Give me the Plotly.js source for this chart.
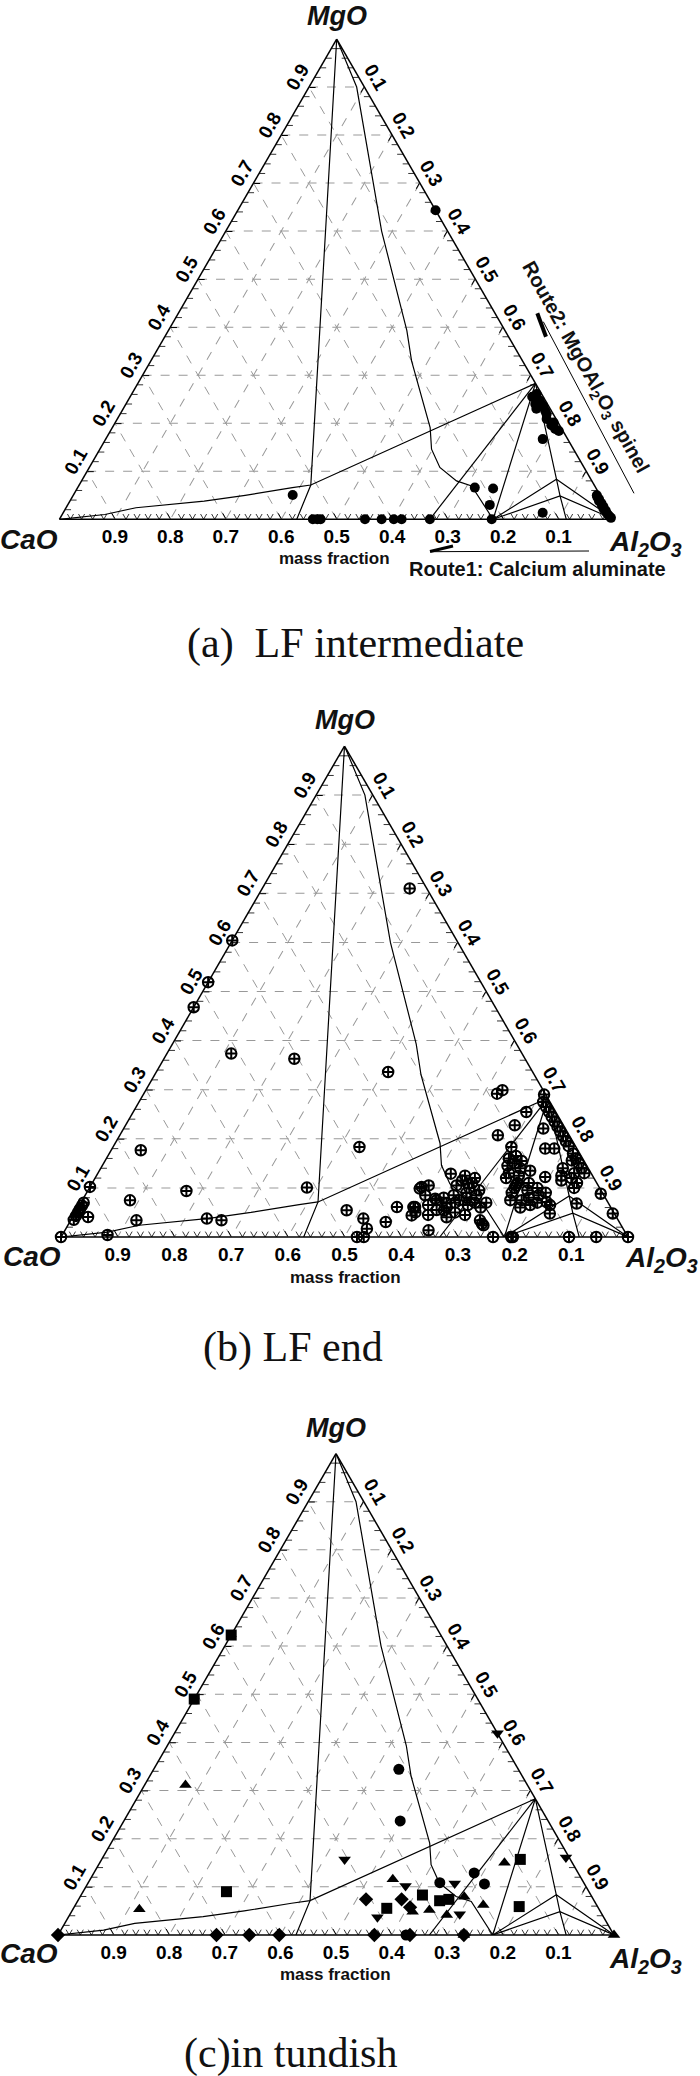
<!DOCTYPE html>
<html><head><meta charset="utf-8">
<script src="https://cdn.plot.ly/plotly-3.0.1.min.js"></script>
<style>html,body{margin:0;padding:0;background:#fff}#chart{width:700px;height:2076px}</style>
</head><body><div id="chart"></div>
<script>
// ---------- tick labels ----------
const TICKVALS = [0.1,0.2,0.3,0.4,0.5,0.6,0.7,0.8,0.9];
const TICKTEXT = ['0.1','0.2','0.3','0.4','0.5','0.6','0.7','0.8','0.9'];
const MINOR = [0.02,0.04,0.06,0.08,0.12,0.14,0.16,0.18,0.22,0.24,0.26,0.28,0.32,0.34,0.36,0.38,0.42,0.44,0.46,0.48,
  0.52,0.54,0.56,0.58,0.62,0.64,0.66,0.68,0.72,0.74,0.76,0.78,0.82,0.84,0.86,0.88,0.92,0.94,0.96,0.98];

// ---------- phase-diagram boundary lines (MgO, CaO; Al2O3 = rest) ----------
const line1_MgO = [1, 0.0714, 0];
const line1_CaO = [0, 0.511, 0.572];
const line2_MgO = [1, 0.9, 0.6, 0.393, 0.33, 0.191, 0.146, 0.108, 0.080, 0.0695, 0];
const line2_CaO = [0, 0.014, 0.119, 0.177, 0.200, 0.236, 0.256, 0.260, 0.244, 0.222, 0.218];
const line3_MgO = [0, 0.010, 0.024, 0.038, 0.050, 0.066, 0.0714, 0.283];
const line3_CaO = [1, 0.913, 0.85, 0.72, 0.64, 0.547, 0.511, 0];
// tie lines (segments separated by null)
const tie_MgO = [0.283, 0, null, 0.283, 0, null, 0.283, 0.0835, 0.0486, 0, null, 0, 0.0835, 0, null, 0, 0.0486, 0];
const tie_CaO = [0, 0.218, null, 0, 0.332, null, 0, 0.062, 0.073, 0.086, null, 0.218, 0.062, 0, null, 0.218, 0.073, 0];

// ---------- (a) LF intermediate ----------
const a_MgO = [0,0,0,0,0,0,0,0,0, 0.0507,0.066,0.064,0.030,0.0138,
  0.261,0.247,0.2365,0.226,0.219,0.209,0.2017,0.188,0.184,0.167,0.255,0.24,0.23,0.196,
  0.05,0.046,0.042,0.038,0.034,0.030,0.026,0.022,0.018,0.014,0.010,0.006,0.003, 0.6435];
const a_CaO = [0.543,0.535,0.529,0.449,0.419,0.397,0.383,0.332,0.2205, 0.554,0.218,0.186,0.209,0.1217,
  0.009,0.010,0.0095,0.011,0.012,0.017,0.008,0.012,0.0075,0.045,0.02,0.022,0.025,0.015,
  0.006,0.007,0.006,0.008,0.006,0.007,0.006,0.008,0.006,0.007,0.006,0.005,0.004, 0.0];

// ---------- (b) LF end ----------
const b_MgO = [0.71,0.604,0.519,0.468,0.3735,0.363,0.336,0.299,0.292,0.1766,0.1833,0.102,0.0937,0.1006,0.129,0.105,
  0.0747,0.0407,0.035,0.043,0.05,0.057,0.064,0.07,0.034,0.0375,0.034,0,0.004,0.0544,0.0375,0.017,0,0,0.0305,0.061,
  0.061,0.102,0.0136,0.027,0.0986,0,0,0,0,0,0,0.0238,0.1088,0.29,0.2546,0.2275,0.207,0.1833,0.2208,0.18,0.18,
  0.275,0.265,0.255,0.245,0.235,0.225,0.215,0.205,0.195,0.185,0.17,0.16,0.15,0.14,0.13,
  0.156,0.13,0.12,0.11,0.1,0.125,0.14,0.115,0.088,0.0477,0.068,0.0477,0.0713,0.122,
  0.065,0.07,0.075,0.08,0.085,0.09,0.095,0.1,0.105,0.11,0.115,0.12,0.125,0.085,0.07,0.06,
  0.1,0.11,0.12,0.125,0.13,0.14,0.145,0.15,0.155,0.16,0.165,0.135,
  0.06,0.065,0.07,0.075,0.08,0.085,0.09,0.095,0.1,0.105,0.11,0.075,0.065,0.09,
  0.04,0.045,0.05,0.055,0.06,0.065,0.07,0.075,0.08,0.085,0.05,0.045,
  0.078,0.068,0.054,0.061,0.044,0.034];
const b_CaO = [0.03,0.396,0.481,0.532,0.513,0.407,0.255,0.072,0.085,0.771,0.382,0.898,0.732,0.516,0.248,0.299,
  0.841,0.932,0.96,0.952,0.945,0.938,0.931,0.925,0.85,0.724,0.70,1,0.916,0.469,0.448,0.452,0.478,0.466,0.412,0.377,
  0.345,0.313,0.345,0.244,0.318,0.238,0.206,0.203,0.104,0.056,0,0.243,0.227,0.003,0.052,0.086,0.126,0.114,0.039,0.056,0.04,
  0.012,0.012,0.012,0.012,0.012,0.012,0.012,0.012,0.012,0.012,0.012,0.012,0.012,0.012,0.012,
  0.021,0.03,0.04,0.035,0.045,0.055,0.045,0.06,0.004,0.003,0.0565,0.114,0.108,0.085,
  0.25,0.235,0.26,0.245,0.225,0.24,0.215,0.23,0.25,0.22,0.235,0.21,0.225,0.265,0.215,0.23,
  0.15,0.14,0.155,0.13,0.145,0.12,0.14,0.125,0.11,0.13,0.115,0.105,
  0.16,0.14,0.125,0.15,0.135,0.115,0.16,0.13,0.11,0.145,0.12,0.17,0.105,0.1,
  0.3,0.33,0.28,0.31,0.29,0.32,0.27,0.3,0.285,0.315,0.35,0.265,
  0.301,0.286,0.2975,0.348,0.3595,0.244];

// ---------- (c) in tundish: five marker groups ----------
const c1_MgO = [0.344,0.237,0.1086,0.129,0.106,0];
const c1_CaO = [0.215,0.266,0.259,0.187,0.18,0.374];
const c2_MgO = [0.3115,0.0533,0.1157,0.0484,0.052,0.0415,0.0795,0.0623,0.150,0,0];
const c2_CaO = [0.615,0.827,0.34,0.338,0.306,0.28,0.2295,0.204,0.122,0,0.27];
const c3_MgO = [0.157,0.1018,0.037,0.107,0.043,0.161,0.419];
const c3_CaO = [0.406,0.324,0.407,0.233,0.256,0.006,0.0];
const c4_MgO = [0.09,0.0554,0.083,0.0712,0.074,0.157,0.059,0.623,0.49];
const c4_CaO = [0.652,0.381,0.303,0.278,0.26,0.09,0.141,0.377,0.51];
const c5_MgO = [0,0,0,0,0,0,0,0.074,0.074,0.0575];
const c5_CaO = [1,0.715,0.656,0.602,0.431,0.367,0.27,0.409,0.345,0.338];

// ---------- layout helpers ----------
const W = 700, H = 2076;
const fx = x => x / W, fy = y => 1 - y / H;
const boxes = [
  {x0: 59.4, x1: 614, y0: 39, y1: 519.3},
  {x0: 61, x1: 628, y0: 746, y1: 1237},
  {x0: 58, x1: 614, y0: 1453.5, y1: 1935}
];
const SANS = 'Liberation Sans, Arial, sans-serif';
const SERIF = 'Liberation Serif, Times New Roman, serif';
function axis(extra) {
  return Object.assign({
    min: 0, tickmode: 'array', tickvals: TICKVALS, ticktext: TICKTEXT.map(t => '<b>' + t + '</b>'),
    showgrid: true, gridcolor: '#999', griddash: 'dash', gridwidth: 1,
    showline: true, linecolor: '#000', linewidth: 1.5,
    ticks: 'inside', ticklen: 6, tickcolor: '#000', tickwidth: 1,
    tickfont: {family: SANS, size: 19, color: '#000'},
    title: {text: ''}
  }, extra || {});
}
function tern(b) {
  return {
    sum: 1, bgcolor: '#fff',
    domain: {x: [fx(b.x0), fx(b.x1)], y: [fy(b.y1), fy(b.y0)]},
    aaxis: axis({tickangle: -60}),
    baxis: axis({}),
    caxis: axis({tickangle: 60})
  };
}

// minor tick marks along the three edges (short strokes along the grid directions)
const d = 0.011;
const minA = [], minB = [];
MINOR.forEach(v => {
  // bottom edge (MgO = 0, CaO = v)
  minA.push(0, d, null, 0, d, null); minB.push(v, v, null, v, v - d, null);
  // left edge (Al2O3 = 0, MgO = v)
  minA.push(v, v, null); minB.push(1 - v, 1 - v - d, null);
  // right edge (CaO = 0, MgO = v)
  minA.push(v, v, null); minB.push(0, d, null);
});

const traces = [];
['ternary', 'ternary2', 'ternary3'].forEach(sp => {
  const ln = {color: '#000', width: 1.2};
  traces.push({type: 'scatterternary', subplot: sp, mode: 'lines', sum: 1, a: minA, b: minB, line: {color: '#000', width: 0.8}, connectgaps: false, hoverinfo: 'skip', cliponaxis: false});
  traces.push({type: 'scatterternary', subplot: sp, mode: 'lines', sum: 1, a: line1_MgO, b: line1_CaO, line: ln, hoverinfo: 'skip', cliponaxis: false});
  traces.push({type: 'scatterternary', subplot: sp, mode: 'lines', sum: 1, a: line2_MgO, b: line2_CaO, line: ln, hoverinfo: 'skip', cliponaxis: false});
  traces.push({type: 'scatterternary', subplot: sp, mode: 'lines', sum: 1, a: line3_MgO, b: line3_CaO, line: ln, hoverinfo: 'skip', cliponaxis: false});
  traces.push({type: 'scatterternary', subplot: sp, mode: 'lines', sum: 1, a: tie_MgO, b: tie_CaO, line: ln, connectgaps: false, hoverinfo: 'skip', cliponaxis: false});
});

traces.push({type: 'scatterternary', subplot: 'ternary', mode: 'markers', sum: 1, a: a_MgO, b: a_CaO, cliponaxis: false,
  marker: {symbol: 'circle', size: 10, color: '#000'}});
traces.push({type: 'scatterternary', subplot: 'ternary2', mode: 'markers', sum: 1, a: b_MgO, b: b_CaO, cliponaxis: false,
  marker: {symbol: 'circle-cross-open', size: 10.5, color: '#000', line: {width: 2, color: '#000'}}});
const csym = [['circle', c1_MgO, c1_CaO], ['triangle-up', c2_MgO, c2_CaO], ['triangle-down', c3_MgO, c3_CaO], ['square', c4_MgO, c4_CaO], ['diamond', c5_MgO, c5_CaO]];
csym.forEach(s => traces.push({type: 'scatterternary', subplot: 'ternary3', mode: 'markers', sum: 1, a: s[1], b: s[2], cliponaxis: false,
  marker: {symbol: s[0], size: 11, color: '#000'}}));

function ann(text, x, y, size, opts) {
  return Object.assign({text: text, x: fx(x), y: fy(y), xref: 'paper', yref: 'paper', showarrow: false,
    xanchor: 'center', yanchor: 'middle', font: {family: SANS, size: size, color: '#111'}}, opts || {});
}
const annotations = [
  ann('<b><i>MgO</i></b>', 337, 16, 27), ann('<b><i>CaO</i></b>', 29, 539, 28), ann('<b><i>Al<sub>2</sub>O<sub>3</sub></i></b>', 645, 543, 28),
  ann('<b>mass fraction</b>', 334, 559, 17),
  ann('<b>Route1: Calcium aluminate</b>', 537, 569, 20),
  ann('<b>Route2: MgOAl<sub>2</sub>O<sub>3</sub> spinel</b>', 585, 367, 20, {textangle: 60.8}),
  ann('(a)\u00a0 LF intermediate', 355, 643, 42, {font: {family: SERIF, size: 42, color: '#111'}}),

  ann('<b><i>MgO</i></b>', 344.5, 720, 27), ann('<b><i>CaO</i></b>', 32, 1256, 28), ann('<b><i>Al<sub>2</sub>O<sub>3</sub></i></b>', 661, 1259, 28),
  ann('<b>mass fraction</b>', 345, 1277, 17),
  ann('(b) LF end', 293, 1347, 42, {font: {family: SERIF, size: 42, color: '#111'}}),

  ann('<b><i>MgO</i></b>', 336, 1428, 27), ann('<b><i>CaO</i></b>', 29, 1953, 28), ann('<b><i>Al<sub>2</sub>O<sub>3</sub></i></b>', 645, 1960, 28),
  ann('<b>mass fraction</b>', 335.5, 1974, 17),
  ann('(c)in tundish', 290, 2053, 42, {font: {family: SERIF, size: 42, color: '#111'}})
];
const shapes = [
  {type: 'line', xref: 'paper', yref: 'paper', x0: fx(543.3), y0: fy(321.7), x1: fx(634), y1: fy(493.3), line: {color: '#000', width: 1}},
  {type: 'line', xref: 'paper', yref: 'paper', x0: fx(537.3), y0: fy(313.3), x1: fx(546), y1: fy(336.7), line: {color: '#000', width: 4}},
  {type: 'line', xref: 'paper', yref: 'paper', x0: fx(430), y0: fy(551.7), x1: fx(589), y1: fy(551), line: {color: '#000', width: 1}},
  {type: 'line', xref: 'paper', yref: 'paper', x0: fx(430), y0: fy(551.5), x1: fx(453), y1: fy(546), line: {color: '#000', width: 3}}
];

const layout = {
  width: W, height: H, margin: {l: 0, r: 0, t: 0, b: 0},
  paper_bgcolor: '#fff', showlegend: false,
  ternary: tern(boxes[0]), ternary2: tern(boxes[1]), ternary3: tern(boxes[2]),
  annotations: annotations, shapes: shapes
};
Plotly.newPlot('chart', traces, layout, {staticPlot: true});
</script></body></html>
